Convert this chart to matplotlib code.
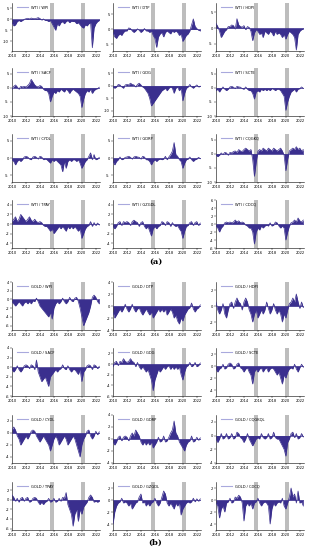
import numpy as np
import matplotlib.pyplot as plt
from matplotlib.ticker import MultipleLocator, FormatStrFormatter

# quarterly grid, 2010.00 .. 2022.50
years = np.arange(51) * 0.25 + 2010

crisis_spans = [(2015.4, 2016.0), (2019.9, 2020.5)]

wti_labels = ['WTI / WPI', 'WTI / DTP', 'WTI / HDPI',
              'WTI / SACF', 'WTI / GDG', 'WTI / SCTE',
              'WTI / CYDL', 'WTI / GDRP', 'WTI / CQGKQ',
              'WTI / TPAY', 'WTI / GZGDL', 'WTI / CDCQ']
gold_labels = ['GOLD / WPI', 'GOLD / DTP', 'GOLD / HDPI',
               'GOLD / SACF', 'GOLD / GDG', 'GOLD / SCTE',
               'GOLD / CYDL', 'GOLD / GDRP', 'GOLD / CQGKQL',
               'GOLD / TPAY', 'GOLD / GZGDL', 'GOLD / CDCQ']

wti_values = [
    [-1.5, -3, -2.5, -1, -0.5, -1, -0.5, 0,
     0.3, 0.5, 0.2, 0.6, 0.4, 0.3, 0.5, 0.8, 0.4, -0.3, 0.2, -0.5,
     -0.5, -1, -0.5, -2, -3.5, -5, -2, -3,
     -1.5, -1, -2, -1, -0.5, -1.5, -0.8, -1,
     -1, -2, -1.5, -2.5, -3.5, -4, -2.5, -3,
     -2, -1.5, -13, -4, -2, -1, -0.5],
    [-1, -2.5, -3, -2, -1.5, -2, -1, -0.5,
     -0.5, 0.5, 0.3, -0.5, -1, -0.5, 0.2, -0.3, -1, -0.5, 0.3, -0.5,
     -0.5, -1, -0.5, -2, -3, -6, -2.5, -1.5,
     -1, -2.5, -1, -0.5, -1, -1.5, -0.5, -1,
     -0.5, -1, -2, -1.5, -4, -3, -2, -1.5,
     -0.5, 1.5, 3.5, 1, 0.3, -0.3, -0.5],
    [1.5, 0.5, -1, -3, -2, -1, -0.5, 0.5,
     0.5, 1, 0.8, -0.3, 3, 1, 0.5, 0.3, 0.8, -0.5, 0.5, 0.2,
     -1, -4, -1.5, -0.5, -1, -2, -1.5, -3,
     -1, -1.5, -2, -1, -1.5, -2.5, -1, -2,
     -1.5, -2, -3, -2, -3.5, -2, -1, -1.5,
     -2, -3, -7, -2, -1, -0.5, -0.3],
    [-0.5, 0.5, 1, 0.3, -0.5, 0.5, 0.3, 0.5,
     0.3, 0.8, 1.5, 3, 2, 1, 0.5, 0.3, 0.8, 0.5, -0.5, -1,
     -1, -2, -5, -3, -1.5, -2, -1, -1.5,
     -0.5, -1, -1.5, -0.5, -1, -2, -1, -0.5,
     -1, -1.5, -2, -3, -7, -4, -2, -1,
     -1.5, -0.5, -2, -1, -0.5, -0.3, 0.2],
    [-0.5, -1, -0.5, 0.5, 0.3, -0.5, -1, 0.3,
     0.5, 0.3, 1, 0.5, 0.3, -0.5, 0.5, 1, 0.3, -0.5, -1, -2,
     -3, -5, -8, -7, -6, -5, -4, -3,
     -2, -1.5, -1, -2, -1, -0.5, -1, -3,
     -1, -0.5, -2, -1, -6, -3, -1, -0.5,
     0.5, -0.5, -1, -0.3, 0.3, -0.5, -0.2],
    [-1, -0.5, -1.5, -0.5, 0.3, -0.5, -1, -0.5,
     0.3, 0.5, 0.2, -0.3, 0.5, 0.3, 0.2, -0.3, -0.5, 0.3, -0.5, -1,
     -1, -2, -4, -1.5, -1, -1.5, -0.5, -1,
     -0.5, -1, -0.5, -1, -0.3, -0.5, -1, -0.5,
     -0.5, -1, -2, -3, -8, -5, -3, -1.5,
     -1, -0.5, -1.5, -0.5, -0.3, 0.3, -0.2],
    [-0.5, -1, -2, -1, -0.5, -1, -0.5, 0.3,
     0.5, 0.3, -0.3, -0.5, 0.3, 0.5, 0.2, -0.3, 0.5, 0.3, -0.5, -0.3,
     -0.5, -1, -1.5, -0.5, -1, -0.5, -1, -1.5,
     -2, -4, -1, -3, -1, -0.5, -1, -0.5,
     -0.5, -1, -0.5, -1.5, -3, -2, -1, -0.5,
     0.5, 1.5, -0.5, 1, -0.5, -0.3, 0.2],
    [-1, -2, -1, -0.5, 0.3, -0.5, -0.3, 0.2,
     0.3, 0.5, 0.2, -0.3, 0.3, 0.5, 0.3, 0.2, -0.3, 0.5, 0.3, -0.5,
     -0.5, -1, -2, -1, -0.5, -1, -0.5, -0.3,
     -0.5, -0.3, 0.5, -0.5, 0.3, 1, 2, 4.5,
     1, 0.5, -0.5, -1, -3, -1.5, -0.5, -0.3,
     0.3, -0.5, -1, -0.5, -0.3, 0.2, -0.2],
    [-0.5, -1, -0.5, 0.3, -0.3, 0.5, 0.3, -0.5,
     0.5, 0.3, 0.8, 1, 0.5, 1.5, 1, 0.8, 1.5, 2, 1.5, 1,
     1.5, -2, -8, -3, 1, 1.5, 1, 2,
     1.5, 1, 2, 1.5, 1, 2, 1.5, 1,
     1.5, 2, 1, -0.5, -6, -2, 1, 1.5,
     2, 1.5, 2.5, 1.5, 2, 1, 1.5],
    [0.5, 1, 1.5, 0.5, 1, 2, 1.5, 1,
     0.5, 1, 1.5, 0.8, 0.5, 1, 0.5, 0.3, 0.5, 0.3, -0.3, -0.5,
     -0.5, -1, -1.5, -1, -2, -1.5, -1, -0.5,
     -1, -0.5, -1, -1.5, -0.5, -1, -0.5, -1,
     -0.5, -1, -1.5, -1, -3, -2, -1, -0.5,
     -0.3, 0.5, -0.5, 0.3, -0.3, 0.2, -0.2],
    [-0.5, -1, -0.5, 0.3, 0.5, -0.3, 0.5, 0.3,
     0.5, 0.3, -0.3, 0.5, 0.8, 0.5, 0.3, -0.5, 0.3, 0.5, -0.5, -1,
     -0.5, -1.5, -2.5, -1, -0.5, -1, -0.5, -0.3,
     0.5, 0.3, -0.3, 0.5, 0.3, -0.5, 0.3, -0.3,
     -0.5, -0.3, -1, -1.5, -3, -1.5, -0.5, -0.3,
     0.3, 0.5, -0.3, 0.3, 0.5, -0.3, 0.2],
    [-0.5, -1, -2, -1, -0.5, 0.3, 0.5, 0.3,
     0.5, 0.3, 0.5, 1, 0.5, 0.8, 0.3, 0.5, 0.3, -0.3, -0.5, -1,
     -1, -2, -5, -2, -1, -1.5, -0.5, -1,
     -0.5, -0.3, -0.5, 0.3, -0.5, -0.3, 0.5, 0.3,
     -0.5, -1, -0.5, -1, -4, -2, -0.5, 0.3,
     0.5, 1, 0.5, 1.5, 0.8, 0.5, 1],
]

gold_values = [
    [-0.5, -1, -1.5, -1, -0.5, -1, -1.5, -0.8,
     -0.5, -1, -0.5, -1, -0.3, -0.5, 0.3, -0.5, -1.5, -2, -2.5, -3,
     -3.5, -4, -3, -4.5, -2, -1, -0.5, -1,
     -0.5, 0.3, -0.5, -1, -0.5, 0.5, -0.3, -0.5,
     0.3, 0.5, -0.5, -2, -4, -6, -5, -4,
     -3, -1.5, 0.5, 1, 0.5, -0.5, -1],
    [-1, -2, -1.5, -1, -0.5, -1, -0.5, 0.3,
     -0.5, -1, -0.5, 0.3, -0.5, -1, -0.5, -0.3, -1, -1.5, -1, -0.5,
     -1, -1.5, -1, -2, -1.5, -1, -0.5, -1,
     -0.5, -1, -0.5, -1.5, -1, -0.5, -1, -2,
     -1.5, -2.5, -3, -2, -2.5, -1.5, -1, -0.5,
     -0.3, 0.5, -0.5, -1, -0.5, -0.3, 0.2],
    [0.5, -0.5, -1, -0.5, 0.3, -1, -1.5, -0.5,
     0.3, 0.5, -0.3, 0.5, 1, 0.5, 0.3, -0.5, 0.5, 1, 0.5, -0.5,
     -1, -2, -1, -0.5, -1.5, -1, -0.5, -1,
     -0.5, 0.5, -0.3, -1, -0.5, 0.3, -0.5, -1,
     -0.5, -1, -2, -1, -1.5, -0.5, 0.3, 0.5,
     1, 0.5, 1.5, 0.5, -0.3, 0.5, -0.2],
    [-0.5, -1, -0.5, 0.3, -0.5, -1, -0.5, 0.3,
     0.5, 0.3, -0.3, 0.5, 0.3, -0.5, 1.5, -1, -2, -3, -2.5, -2,
     -3, -4, -2, -1.5, -1, -0.5, -1, -0.5,
     -0.3, 0.5, -0.3, -0.5, 0.3, -0.5, -1, -0.5,
     -0.5, -1, -1.5, -0.5, -3, -1, -0.5, 0.3,
     0.5, 0.3, -0.5, 0.5, 0.3, -0.3, 0.2],
    [-0.5, 0.3, 0.5, -0.3, 0.5, 0.3, 1, 0.5,
     0.3, 0.5, 1, 0.5, 0.3, -0.5, 0.3, -0.5, -1, -0.5, -1, -1.5,
     -1, -2, -3, -5, -3, -2, -1, -1.5,
     -1, -0.5, -1, -0.5, -0.3, -1, -0.5, -1,
     -0.5, -1, -0.5, -2, -3, -1.5, -0.5, -0.3,
     0.3, -0.5, -0.3, 0.3, -0.5, -0.3, 0.2],
    [-0.5, -1, -0.5, -0.3, 0.3, -0.5, -0.3, 0.3,
     0.5, 0.3, -0.5, -0.3, 0.3, 0.5, -0.3, -0.5, -1, -0.5, -0.3, -1,
     -1.5, -3, -1, -0.5, -1, -0.5, -0.3, -1,
     -0.5, -0.3, -1, -0.5, -0.3, -0.5, -1, -1.5,
     -1, -2, -3, -1.5, -2, -1, -0.5, -0.3,
     -0.5, 0.3, -0.5, -1, -0.3, 0.3, -0.2],
    [0.5, 1, 0.5, -0.5, -1, -2, -1.5, -1,
     -0.5, -1, -0.5, 0.3, 0.5, 0.3, -0.5, -1, -1.5, -1, -0.5, -1,
     -1.5, -2, -3, -2, -1, -0.5, -1, -2,
     -1.5, -1, -0.5, -1, -2, -1.5, -1, -0.5,
     -1, -2, -3, -4, -2, -1, -0.5, 0.3,
     0.5, -0.5, -1, -0.5, 0.3, -0.3, 0.2],
    [-0.5, -1, -0.5, 0.3, 0.5, -0.3, 0.3, 0.5,
     0.3, -0.3, 0.5, 1, 0.5, 1.5, 1, 0.5, -0.5, -1, -0.5, -1,
     -0.5, -1, -0.5, -1.5, -1, -0.5, 0.3, -0.5,
     -0.3, 0.5, -0.5, -0.3, 0.3, 1, 1.5, 3,
     1, 0.5, -0.5, -1, -1.5, -2, -1, -0.5,
     -0.3, 0.5, -0.5, -0.3, 0.3, -0.2, 0.2],
    [-0.5, -1, -0.5, 0.3, -0.5, -0.3, 0.3, -0.5,
     -0.3, 0.3, -0.5, -0.3, 0.5, 0.3, -0.3, -0.5, -1, -0.5, 0.3, -0.5,
     -1, -1.5, -1, -0.5, -0.3, -0.5, 0.3, -0.3,
     -0.5, -0.3, 0.3, -0.5, -0.3, 0.5, -0.3, -0.5,
     -0.5, -1, -1.5, -2, -3, -1, -0.5, 0.3,
     0.5, -0.3, 0.3, -0.5, -0.3, 0.3, -0.2],
    [1, 0.5, -0.3, 0.3, -0.5, 0.3, 0.5, -0.3,
     0.3, 0.5, -0.5, -0.3, 0.3, 0.5, 0.3, -0.5, -1, -0.5, -1, -0.5,
     -0.3, 0.3, -0.5, -0.3, 0.3, -0.5, -0.3, 0.3,
     -0.3, 0.5, 0.3, 1.5, -1, -2, -3, -5.5,
     -3, -2, -4.5, -2, -3, -1.5, -1, -0.5,
     0.5, 1, 0.5, -0.5, -0.3, -0.5, -0.3],
    [-4, -2, -1, -0.5, -0.3, 0.3, -0.5, -0.3,
     -0.5, -1, -0.5, -1.5, -1, -0.5, -0.3, 0.5, 1, -0.5, -0.3, -1,
     -0.5, -1, -0.5, -0.3, 0.3, -0.5, -1, -0.5,
     0.5, 1.5, 1, -0.5, -1, -0.5, -1, -1.5,
     -0.5, -1, -0.5, -2.5, -1.5, -1, -0.5, -0.3,
     -0.5, -0.3, 0.3, -0.3, 0.2, -0.2, 0.2],
    [-0.5, -1, -3, -1.5, -1, -2, -0.5, -0.3,
     0.3, -0.5, -0.3, 0.5, 0.3, 0.8, 0.5, -0.5, -3.5, -1, -0.5, -1,
     -0.5, -1.5, -0.5, -0.3, 0.3, -0.5, -1, -0.5,
     -0.3, -0.5, -1, -4, -1.5, -0.5, -1, -0.5,
     -0.3, -0.5, 0.3, -1, -1.5, -0.5, 0.5, 2,
     0.5, 1, -0.5, 1.5, -0.5, -0.3, -1],
]

wti_ylims = [(-14.5, 7.5), (-7.2, 8.8), (-7.3, 8), (-10, 7), (-12, 7), (-10, 7),
             (-7, 7), (-7, 7), (-10, 7), (-5, 5), (-5, 5), (-6, 6)]
gold_ylims = [(-7, 4), (-4, 4), (-3, 3), (-6, 4), (-6, 3), (-5, 3),
              (-5, 3), (-4, 4), (-4, 3), (-6.3, 3.7), (-5, 3), (-5, 3)]
wti_steps = [5, 5, 5, 5, 5, 5, 5, 5, 5, 2, 2, 2]
gold_steps = [2, 2, 2, 2, 2, 2, 2, 2, 2, 2, 2, 2]

fill_color = '#3a2f8e'
legend_color = '#a9a9dd'

fig = plt.figure(figsize=(3.11, 5.5), dpi=100)
W, H = 311, 550

col_left = [12, 113, 216]
ax_w = 88
rows_a = [3, 68, 134, 200]
rows_b = [282, 348, 415, 482]
ax_h = 48


def _draw_panel(top, left, t, vals, label, ylim, step):
    ax = fig.add_axes([left / W, 1 - (top + ax_h) / H, ax_w / W, ax_h / H])
    for lo, hi in crisis_spans:
        ax.axvspan(lo, hi, color='#bdbdbd', lw=0, zorder=0)
    v = np.array(vals)
    ax.fill_between(t, v, 0, color=fill_color, lw=0, zorder=2)
    ax.plot(t, v, color=fill_color, lw=0.5, zorder=3)
    ax.axhline(0, color=fill_color, lw=0.5, zorder=3)
    ax.plot([], [], color=legend_color, lw=0.8, label=label)
    ax.legend(loc='upper left', frameon=False, fontsize=2.6,
              handlelength=3, borderaxespad=0.3, bbox_to_anchor=(0.03, 1))
    ax.set_xlim(2010, 2022.6)
    ax.set_ylim(*ylim)
    ax.set_xticks(range(2010, 2023, 2))
    ax.yaxis.set_major_locator(MultipleLocator(step))
    ax.yaxis.set_major_formatter(FormatStrFormatter('%d'))
    ax.tick_params(labelsize=2.6, length=1.2, width=0.3, pad=1)
    for side in ['top', 'right']:
        ax.spines[side].set_visible(False)
    for side in ['left', 'bottom']:
        ax.spines[side].set_linewidth(0.4)


for k in range(12):
    r, c = divmod(k, 3)
    _draw_panel(rows_a[r], col_left[c], years, wti_values[k], wti_labels[k],
                wti_ylims[k], wti_steps[k])
    _draw_panel(rows_b[r], col_left[c], years, gold_values[k], gold_labels[k],
                gold_ylims[k], gold_steps[k])

fig.text(0.5, 1 - 262 / H, '(a)', ha='center', va='center', fontsize=6,
         family='DejaVu Serif', weight='bold')
fig.text(0.5, 1 - 543 / H, '(b)', ha='center', va='center', fontsize=6,
         family='DejaVu Serif', weight='bold')

fig.savefig('out.png', dpi=100)
